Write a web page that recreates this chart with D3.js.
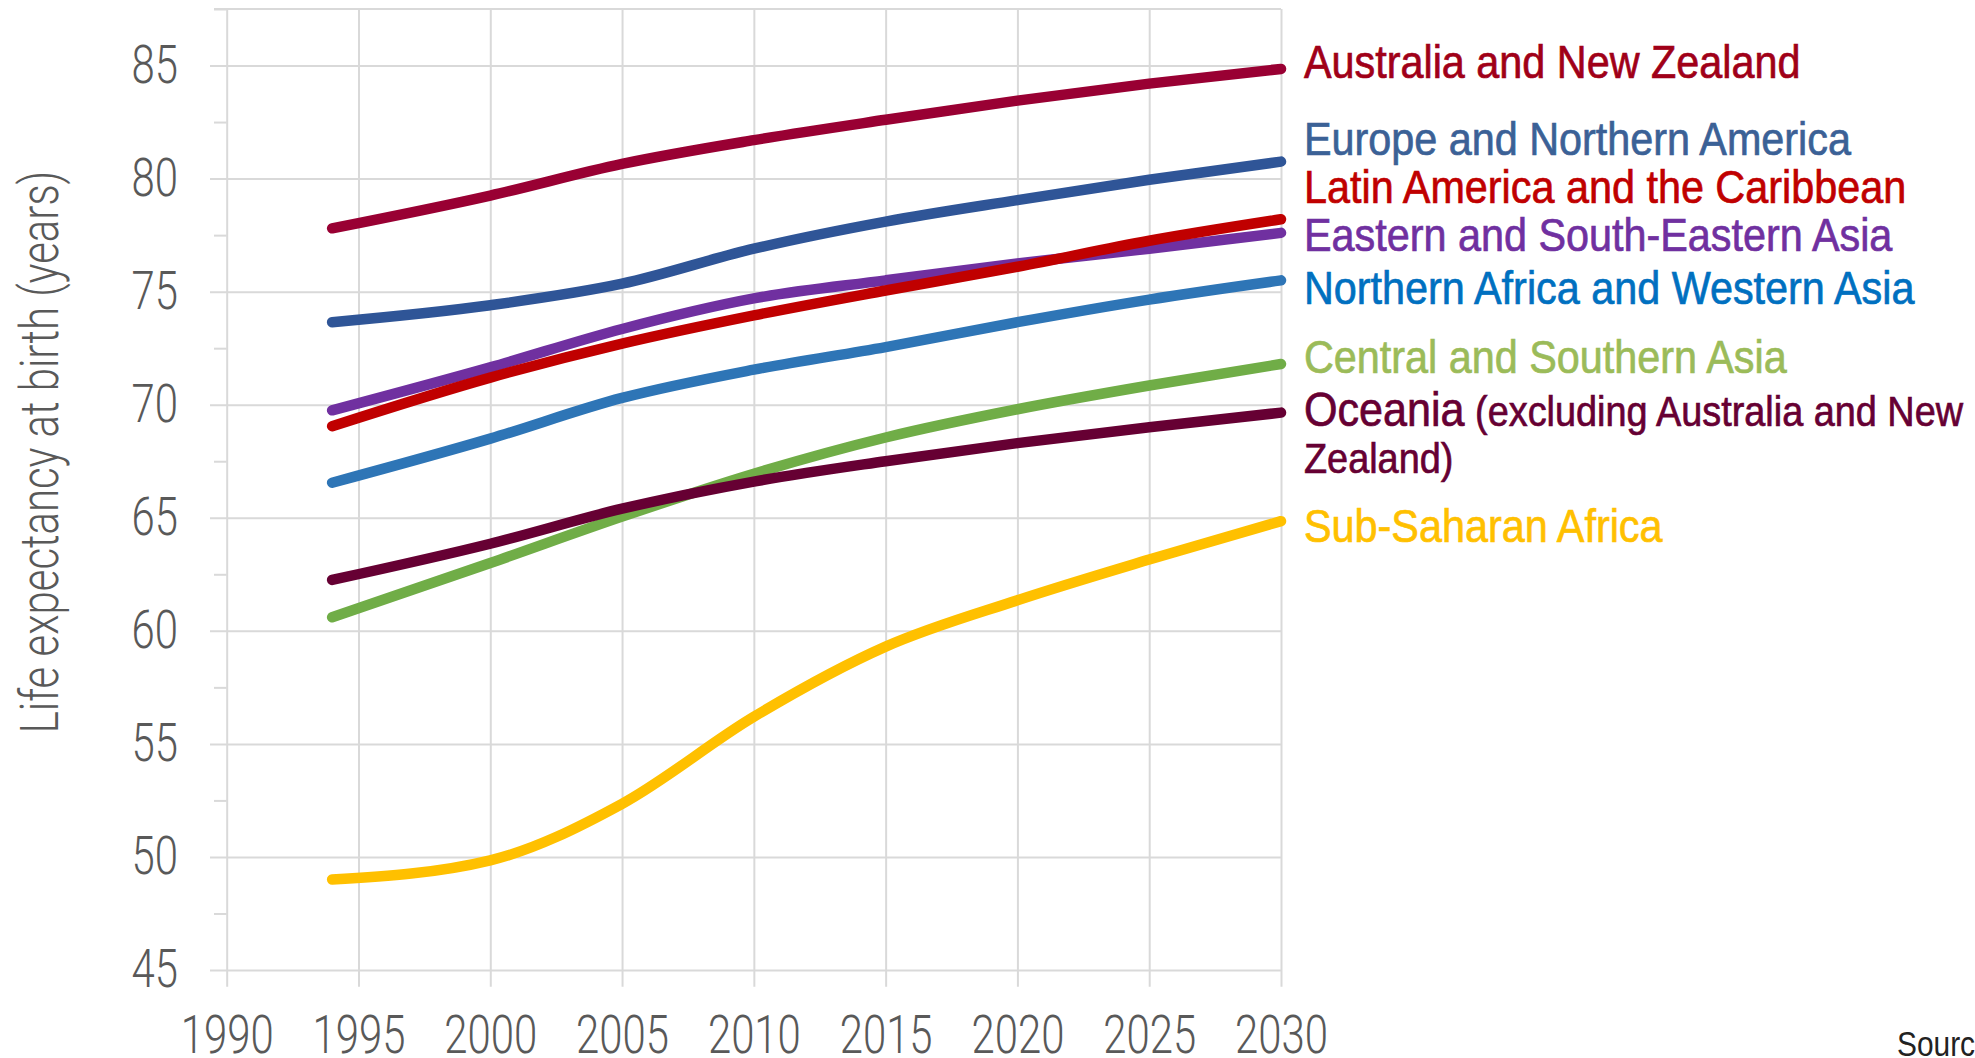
<!DOCTYPE html>
<html>
<head>
<meta charset="utf-8">
<script src="https://cdn.jsdelivr.net/npm/d3@7"></script>
<style>
  html, body { margin: 0; padding: 0; background: #ffffff; overflow: hidden; }
  svg { display: block; }
  .tick-font { font-family: Roboto, "Liberation Sans", sans-serif; font-weight: 300; }
  .label-font { font-family: "Liberation Sans", Arial, sans-serif; }
</style>
</head>
<body>
<svg id="chart" width="1975" height="1058"></svg>
<script>
// ---- data ----
const years = [1994, 2000, 2005, 2010, 2015, 2020, 2025, 2030];
const australiaNZ   = [77.8, 79.25, 80.65, 81.7, 82.6, 83.45, 84.2, 84.85];
const europeNAm     = [73.65, 74.4, 75.35, 76.9, 78.1, 79.05, 79.95, 80.75];
const latinAmerica  = [69.05, 71.2, 72.7, 73.95, 75.05, 76.1, 77.25, 78.2];
const eastAsia      = [69.75, 71.65, 73.35, 74.7, 75.5, 76.25, 76.9, 77.6];
const nAfricaWAsia  = [66.55, 68.5, 70.3, 71.55, 72.55, 73.65, 74.65, 75.5];
const centralSAsia  = [60.6, 63.0, 65.05, 66.95, 68.55, 69.8, 70.85, 71.8];
const oceaniaExcl   = [62.25, 63.85, 65.4, 66.6, 67.5, 68.3, 69.0, 69.65];
const subSaharan    = [49.0, 49.85, 52.35, 56.2, 59.3, 61.35, 63.15, 64.85];

const xTicks = [1990, 1995, 2000, 2005, 2010, 2015, 2020, 2025, 2030];
const yTicks = [45, 50, 55, 60, 65, 70, 75, 80, 85];
const yMinorTicks = [47.5, 52.5, 57.5, 62.5, 67.5, 72.5, 77.5, 82.5, 87.5];

// series: drawing order (bottom to top)
const series = [
  { name: "Sub-Saharan Africa", values: subSaharan, line: "#ffc000", label: "#ffc000", labelAt: 64.67 },
  { name: "Central and Southern Asia", values: centralSAsia, line: "#70ad47", label: "#9bbb59", labelAt: 72.13 },
  { name: "Oceania", sub: "(excluding Australia and New", sub2: "Zealand)", values: oceaniaExcl, line: "#660033", label: "#660033", labelAt: 69.8 },
  { name: "Northern Africa and Western Asia", values: nAfricaWAsia, line: "#2e75b6", label: "#0070c0", labelAt: 75.2 },
  { name: "Eastern and South-Eastern Asia", values: eastAsia, line: "#7030a0", label: "#7030a0", labelAt: 77.55 },
  { name: "Latin America and the Caribbean", values: latinAmerica, line: "#c00000", label: "#c00000", labelAt: 79.65 },
  { name: "Europe and Northern America", values: europeNAm, line: "#2f5597", label: "#3b6196", labelAt: 81.77 },
  { name: "Australia and New Zealand", values: australiaNZ, line: "#990033", label: "#a00018", labelAt: 85.2 }
];

// ---- layout ----
const svg = d3.select("#chart");
const plotL = 226.7, plotR = 1281, plotT = 9, plotB = 970;
const x = d3.scaleLinear().domain([1990, 2030]).range([plotL, plotR]);
const y = d3.scaleLinear().domain([45, 87.5]).range([plotB, plotT]);
const grid = "#d9d9d9";
const tickColor = "#595959";
const tickCondense = 0.79;

function condense(sel, f) {
  sel.each(function () {
    const w = this.getComputedTextLength();
    d3.select(this).attr("textLength", w * f).attr("lengthAdjust", "spacingAndGlyphs");
  });
}

// vertical gridlines + x tick labels
const xAxis = d3.axisBottom(x)
  .tickValues(xTicks)
  .tickFormat(d3.format("d"))
  .tickSize(-(plotB + 16.7 - plotT))
  .tickSizeOuter(0)
  .tickPadding(29);
const gx = svg.append("g").attr("transform", `translate(0,${plotB + 16.7})`).call(xAxis);
gx.select(".domain").remove();
gx.selectAll("line").attr("stroke", grid).attr("stroke-width", 2);
gx.selectAll("text").attr("class", "tick-font").attr("fill", tickColor)
  .style("font-size", "53px");
condense(gx.selectAll("text"), tickCondense);

// horizontal major gridlines + y labels
const yAxis = d3.axisLeft(y)
  .tickValues(yTicks)
  .tickSize(-(plotR - 210))
  .tickSizeOuter(0)
  .tickPadding(32);
const gy = svg.append("g").attr("transform", `translate(210,0)`).call(yAxis);
gy.select(".domain").remove();
gy.selectAll("line").attr("stroke", grid).attr("stroke-width", 2);
gy.selectAll("text").attr("class", "tick-font").attr("fill", tickColor)
  .style("font-size", "53px");
condense(gy.selectAll("text"), tickCondense);

// minor ticks
const yMinor = d3.axisLeft(y).tickValues(yMinorTicks).tickSize(12.7).tickFormat("");
const gm = svg.append("g").attr("transform", `translate(${plotL},0)`).call(yMinor);
gm.select(".domain").remove();
gm.selectAll("line").attr("stroke", grid).attr("stroke-width", 2);
// top border line at 87.5
svg.append("line")
  .attr("x1", plotL - 12.7).attr("x2", plotR)
  .attr("y1", y(87.5)).attr("y2", y(87.5))
  .attr("stroke", grid).attr("stroke-width", 2);

// y-axis title
const yTitle = svg.append("text")
  .attr("class", "tick-font")
  .attr("transform", `translate(58,452) rotate(-90)`)
  .attr("text-anchor", "middle")
  .attr("fill", tickColor)
  .style("font-size", "53px")
  .text("Life expectancy at birth (years)");
condense(yTitle, tickCondense);

// lines
const line = d3.line()
  .x((d, i) => x(years[i]))
  .y(d => y(d))
  .curve(d3.curveMonotoneX);

svg.append("g").selectAll("path")
  .data(series)
  .join("path")
  .attr("d", d => line(d.values))
  .attr("fill", "none")
  .attr("stroke", d => d.line)
  .attr("stroke-width", 10.5)
  .attr("stroke-linecap", "round")
  .attr("stroke-linejoin", "round");

// labels (condensed via horizontal scale)
const labelX = 1304;
const labelScale = 0.88;
const lg = svg.append("g");
series.forEach(s => {
  const g = lg.append("g")
    .attr("transform", `translate(${labelX},${y(s.labelAt)}) scale(${labelScale},1)`);
  const t = g.append("text")
    .attr("class", "label-font")
    .attr("x", 0).attr("y", 0)
    .attr("dy", "0.36em")
    .attr("fill", s.label)
    .attr("stroke", s.label)
    .attr("stroke-width", 0.7)
    .style("font-size", "47px");
  t.append("tspan").style("font-size", s.sub ? "49px" : null).text(s.name);
  if (s.sub) {
    t.append("tspan").style("font-size", "43px").text(" " + s.sub);
    g.append("text")
      .attr("class", "label-font")
      .attr("x", 0).attr("y", 48)
      .attr("dy", "0.36em")
      .attr("fill", s.label)
      .attr("stroke", s.label)
      .attr("stroke-width", 0.7)
      .style("font-size", "43px")
      .text(s.sub2);
  }
});

// source (cut off at page edge)
svg.append("g")
  .attr("transform", "translate(1897,1056) scale(0.83,1)")
  .append("text")
  .attr("class", "label-font")
  .attr("fill", "#222222")
  .style("font-size", "36px")
  .text("Source: United Nations");
</script>
</body>
</html>
